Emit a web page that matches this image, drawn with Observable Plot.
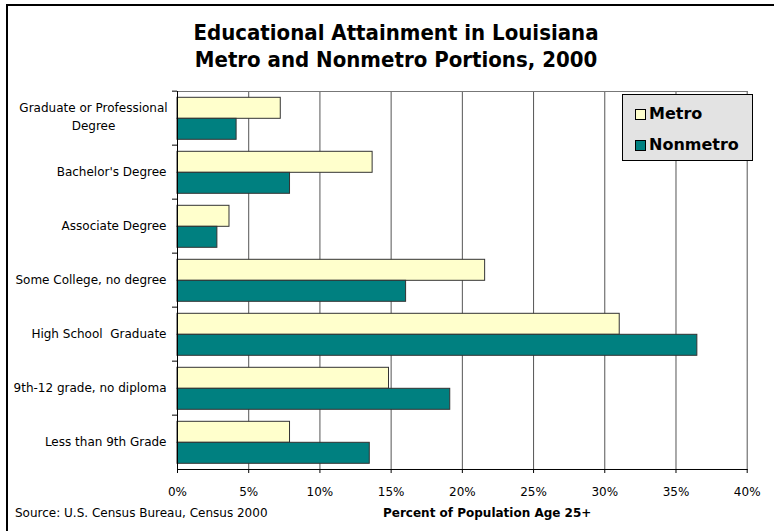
<!DOCTYPE html>
<html>
<head>
<meta charset="utf-8">
<script src="https://cdn.jsdelivr.net/npm/d3@7"></script>
<script src="https://cdn.jsdelivr.net/npm/@observablehq/plot@0.6"></script>
<style>
  html, body { margin: 0; padding: 0; background: #fff; }
  #wrap { position: relative; width: 774px; height: 531px; overflow: hidden; font-family: "DejaVu Sans", sans-serif; color: #000; }
  #border { position: absolute; left: 6px; top: 4px; width: 800px; height: 600px; border-left: 2px solid #000; border-top: 2px solid #000; }
  #chart { position: absolute; left: 0; top: 0; }
  #title { position: absolute; left: 0; top: 19px; width: 792px; text-align: center; font-family: "DejaVu Sans Condensed", "DejaVu Sans", sans-serif; font-stretch: condensed; font-weight: bold; font-size: 22px; line-height: 27.3px; }
  #source { position: absolute; left: 15px; top: 506px; font-size: 12px; }
  #xlabel { position: absolute; left: 383px; top: 506px; font-size: 12px; font-weight: bold; }
  #legend { position: absolute; left: 622px; top: 94px; width: 129px; height: 65px; background: #e3e3e3; border: 1px solid #000; }
  .li { position: absolute; left: 12px; font-weight: bold; font-size: 16px; line-height: 18px; display: flex; align-items: center; }
  .sw { width: 11px; height: 11px; border: 1px solid #000; box-sizing: border-box; margin-right: 3px; }
</style>
</head>
<body>
<div id="wrap">
  <div id="title">Educational Attainment in Louisiana<br>Metro and Nonmetro Portions, 2000</div>
  <div id="chart"></div>
  <div id="legend"></div>
  <div id="source">Source: U.S. Census Bureau, Census 2000</div>
  <div id="xlabel">Percent of Population Age 25+</div>
  <div id="border"></div>
</div>
<script>
const categories = [
  "Graduate or Professional\nDegree",
  "Bachelor's Degree",
  "Associate Degree",
  "Some College, no degree",
  "High School  Graduate",
  "9th-12 grade, no diploma",
  "Less than 9th Grade"
];
const series = ["Metro", "Nonmetro"];
const metro = [7.25, 13.7, 3.65, 21.6, 31.05, 14.85, 7.9];
const nonmetro = [4.15, 7.9, 2.8, 16.05, 36.5, 19.15, 13.5];
const colors = ["#FFFFCC", "#008080"];
const xTicks = [0, 5, 10, 15, 20, 25, 30, 35, 40];

const rows = categories.flatMap((c, i) => [
  {category: c, series: series[0], value: metro[i]},
  {category: c, series: series[1], value: nonmetro[i]}
]);

const chart = Plot.plot({
  width: 774,
  height: 531,
  marginTop: 88.7,
  marginBottom: 59.3,
  marginLeft: 177,
  marginRight: 27.3,
  style: {fontFamily: "DejaVu Sans, sans-serif", fontSize: "12px", color: "#000", background: "transparent"},
  x: {domain: [0, 40], ticks: xTicks, tickFormat: d => d + "%"},
  fy: {domain: categories, padding: 0},
  y: {domain: series, paddingInner: 0, paddingOuter: 0.26, axis: null},
  color: {domain: series, range: colors},
  marks: [
    Plot.ruleX(xTicks.slice(1), {stroke: "#555", strokeWidth: 1}),
    Plot.frame({anchor: "top", stroke: "#777", facetAnchor: "top"}),
    Plot.barX(rows, {fy: "category", y: "series", x: "value", fill: "series", stroke: "#333", strokeWidth: 1}),
    Plot.ruleX([0], {stroke: "#000", strokeWidth: 1}),
    Plot.frame({anchor: "bottom", stroke: "#000", strokeOpacity: 1, facetAnchor: "bottom"}),
    Plot.axisX({ticks: xTicks, tickFormat: d => d + "%", tickSize: 4, tickPadding: 14, label: null, stroke: "#000", fontSize: 12}),
    Plot.axisFy({ticks: categories.slice(1), anchor: "left", label: null, tickSize: 0, tickPadding: 11, fontSize: 12}),
    Plot.axisFy({ticks: categories.slice(0, 1), anchor: "left", label: null, tickSize: 0, tickPadding: 11, fontSize: 12, lineHeight: 1.47, textAnchor: "middle", dx: -73, dy: -3}),
    Plot.axisFy({anchor: "left", label: null, text: null, tickSize: 5, dy: -27.35, stroke: "#000"})
  ]
});
document.getElementById("chart").appendChild(chart);

const legend = document.getElementById("legend");
const tops = [10, 41];
series.forEach((s, i) => {
  const item = document.createElement("div");
  item.className = "li";
  item.style.top = tops[i] + "px";
  const sw = document.createElement("div");
  sw.className = "sw";
  sw.style.background = colors[i];
  item.appendChild(sw);
  item.appendChild(document.createTextNode(s));
  legend.appendChild(item);
});
</script>
</body>
</html>
